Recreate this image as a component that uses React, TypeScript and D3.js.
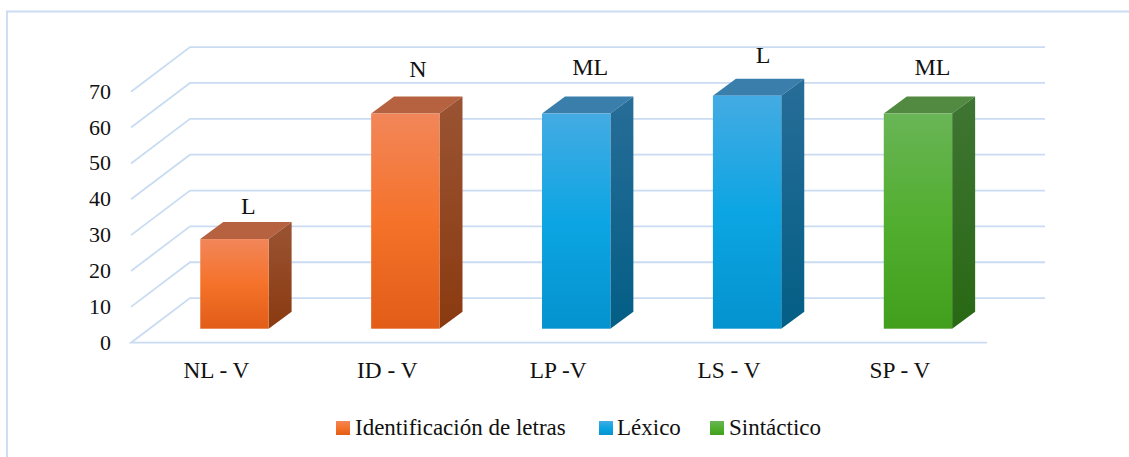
import React from "react";
import * as d3 from "d3";

const categories = ["NL - V", "ID - V", "LP -V", "LS - V", "SP - V"];
const values = [25, 60, 60, 65, 60];
const barLabels = ["L", "N", "ML", "L", "ML"];
const barGroups = ["orange", "orange", "blue", "blue", "green"];
const yTicks = [0, 10, 20, 30, 40, 50, 60, 70];
const legendItems = [
  { key: "orange", label: "Identificación de letras" },
  { key: "blue", label: "Léxico" },
  { key: "green", label: "Sintáctico" },
];

// layout
const W = 1129, H = 457;
const FONT = "'Liberation Serif', serif";
const GRID = "#c9dcf2";
const frontLeft = 131, frontRight = 987, frontBase = 342.7;
const depthX = 59, depthY = 44.6;
const barDepthX = 23, barDepthY = 17;
const labelGap = [33, 45, 47, 41, 47];
const labelShift = [14, 12.5, 14, 16, 14.5];
const legendPos = [
  { sx: 336, tx: 355 },
  { sx: 599, tx: 617 },
  { sx: 710, tx: 729 },
];

const palette: Record<string, any> = {
  orange: {
    front: ["#f28659", "#f5722a", "#e15d18"],
    side: ["#9a5433", "#8a3a10"],
    top: "#b66241",
  },
  blue: {
    front: ["#44abe3", "#0ca5e3", "#0493cf"],
    side: ["#276d98", "#035e85"],
    top: "#3a7fac",
  },
  green: {
    front: ["#69b557", "#52ae2f", "#429f1d"],
    side: ["#3f7533", "#286813"],
    top: "#528a41",
  },
};

export default function App() {
  const y = d3.scaleLinear().domain([0, 70]).range([frontBase, frontBase - 251]);
  const floorX = 18;
  const floorY = 14;
  const x = d3
    .scaleBand<string>()
    .domain(categories)
    .range([frontLeft + floorX, frontRight + floorX - 1.6])
    .paddingInner(0.6)
    .paddingOuter(0.3);
  const line = d3.line();

  return (
    <svg
      width={W}
      height={H}
      viewBox={`0 0 ${W} ${H}`}
      style={{ position: "absolute", left: 0, top: 0, display: "block", background: "#fff" }}
      fontFamily={FONT}
    >
      <defs>
        {Object.keys(palette).map((k) => (
          <React.Fragment key={k}>
            <linearGradient id={`front-${k}`} x1="0" y1="0" x2="0" y2="1">
              <stop offset="0" stopColor={palette[k].front[0]} />
              <stop offset="0.5" stopColor={palette[k].front[1]} />
              <stop offset="1" stopColor={palette[k].front[2]} />
            </linearGradient>
            <linearGradient id={`side-${k}`} x1="0" y1="0" x2="0" y2="1">
              <stop offset="0" stopColor={palette[k].side[0]} />
              <stop offset="1" stopColor={palette[k].side[1]} />
            </linearGradient>
          </React.Fragment>
        ))}
      </defs>

      <path d={line([[7, H], [7, 11.5], [W, 11.5]]) ?? ""} fill="none" stroke={GRID} strokeWidth={1.8} />

      {yTicks.map((t) => {
        const py = y(t);
        return (
          <g key={t}>
            <path
              d={
                line(
                  t === 0
                    ? [[frontRight, py], [frontLeft, py], [frontLeft + depthX, py - depthY], [frontRight + depthX - 1, py - depthY]]
                    : [[frontLeft, py], [frontLeft + depthX, py - depthY], [frontRight + depthX - 1, py - depthY]]
                ) ?? ""
              }
              fill="none"
              stroke={GRID}
              strokeWidth={1.8}
            />
            <text x={111} y={py + 7} textAnchor="end" fontSize={22} fill="#111">
              {t}
            </text>
          </g>
        );
      })}

      {categories.map((c, i) => {
        const x0 = x(c) as number;
        const w = x.bandwidth();
        const base = frontBase - floorY;
        const top = y(values[i]) - floorY;
        const p = palette[barGroups[i]];
        const k = barGroups[i];
        const x1 = x0 + w;
        return (
          <g key={c}>
            <path
              d={(line([[x0, top], [x1, top], [x1 + barDepthX, top - barDepthY], [x0 + barDepthX, top - barDepthY]]) ?? "") + "Z"}
              fill={p.top}
            />
            <path
              d={(line([[x1, top], [x1 + barDepthX, top - barDepthY], [x1 + barDepthX, base - barDepthY], [x1, base]]) ?? "") + "Z"}
              fill={`url(#side-${k})`}
            />
            <rect x={x0} y={top} width={w} height={base - top} fill={`url(#front-${k})`} />
            <text x={x0 + w / 2 + labelShift[i]} y={top - labelGap[i] + 8} textAnchor="middle" fontSize={24} fill="#111">
              {barLabels[i]}
            </text>
            <text x={x0 + w / 2 - floorX} y={378} textAnchor="middle" fontSize={23.3} fill="#111">
              {c}
            </text>
          </g>
        );
      })}

      {legendItems.map((it, i) => (
        <g key={it.key}>
          <rect x={legendPos[i].sx} y={421} width={14} height={14} fill={`url(#front-${it.key})`} />
          <text x={legendPos[i].tx} y={435} fontSize={23} fill="#111">
            {it.label}
          </text>
        </g>
      ))}
    </svg>
  );
}
